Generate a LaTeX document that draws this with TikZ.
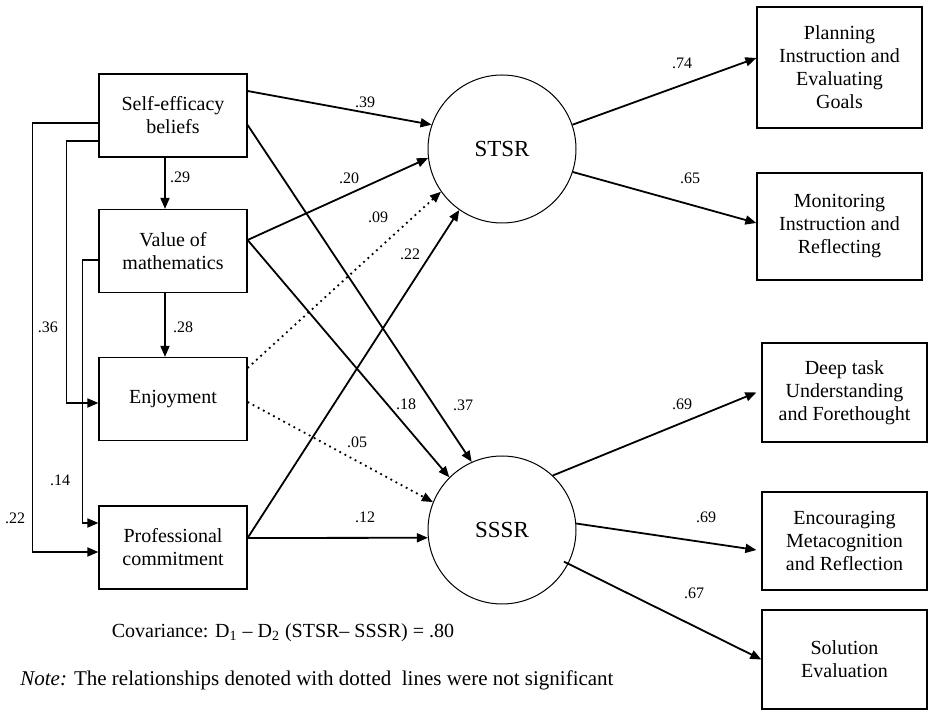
\documentclass[tikz,border=0pt]{standalone}
\usepackage{fontspec}
\setmainfont{Liberation Serif}
\usetikzlibrary{arrows.meta,positioning,calc}

\begin{document}
\begin{tikzpicture}[x=0.5pt, y=-0.5pt, >={Triangle[length=5.5pt,width=4.5pt]},
  obs/.style={draw, line width=0.6pt, align=center, inner sep=1pt,
    font=\fontsize{10}{11.5}\selectfont, minimum width=74pt, minimum height=41.5pt},
  ind/.style={obs, minimum width=82.5pt},
  lat/.style={draw, circle, line width=0.5pt, minimum size=74pt,
    font=\fontsize{11.5}{13}\selectfont},
  coef/.style={font=\fontsize{8}{9.6}\selectfont, inner sep=1pt},
  arr/.style={->, line width=0.9pt},
  ns/.style={arr, dotted}]
\useasboundingbox (0,0) rectangle (928,710);
% predictors
\node[obs] (self) at (173,115.5) {Self-efficacy\\beliefs};
\node[obs] (value) at (173,251) {Value of\\mathematics};
\node[obs] (enjoy) at (173,399) {Enjoyment};
\node[obs] (prof) at (173,547.5) {Professional\\commitment};
% latent factors
\node[lat] (stsr) at (502,149) {STSR};
\node[lat] (sssr) at (502,530) {SSSR};
% indicators
\node[ind, minimum height=60.5pt] (plan) at (839.5,67.5)
  {Planning\\Instruction and\\Evaluating\\Goals};
\node[ind, minimum height=53.5pt] (mon) at (839.5,226.5)
  {Monitoring\\Instruction and\\Reflecting};
\node[ind, minimum height=49.5pt] (deep) at (844.5,392.5)
  {Deep task\\Understanding\\and Forethought};
\node[ind, minimum height=49pt] (enc) at (844.5,541)
  {Encouraging\\Metacognition\\and Reflection};
\node[ind, minimum height=49.5pt] (sol) at (844.5,659.5) {Solution\\Evaluation};
% paths between predictors
\draw[arr] ([xshift=-4pt]self.south) -- ([xshift=-4pt]value.north);
\draw[arr] ([xshift=-4pt]value.south) -- ([xshift=-4pt]enjoy.north);
\draw[arr] ([yshift=-3.75pt]self.west) -- ++(-66,0) |- ([yshift=-2.25pt]prof.west);
\draw[arr] ([yshift=-12.75pt]self.west) -- ++(-32,0) |- ([yshift=-2pt]enjoy.west);
\draw[arr] ([yshift=-4.5pt]value.west) -- ++(-16,0) |- ([yshift=12.25pt]prof.west);
% paths to the factors
\draw[arr] ([yshift=12.25pt]self.east) -- (stsr.161);
\draw[arr] ([yshift=-4.75pt]self.east) -- (sssr.114);
\draw[arr] ([yshift=5.5pt]value.east) -- (stsr.187);
\draw[arr] ([yshift=5.5pt]value.east) -- (sssr.135);
\draw[ns] ([yshift=15.5pt]enjoy.east) -- (stsr.215);
\draw[ns] ([yshift=-1.5pt]enjoy.east) -- (sssr.158);
\draw[arr] ([yshift=4.75pt]prof.east) -- (stsr.235);
\draw[arr] ([yshift=4.75pt]prof.east) -- (sssr.186);
% loadings
\draw[arr] (stsr.19) -- ([yshift=4.75pt]plan.west);
\draw[arr] (stsr.-18) -- ([yshift=1.75pt]mon.west);
\draw[arr] (sssr.47) -- ([xshift=-2.5pt]deep.west);
\draw[arr] (sssr.5) -- ([xshift=-2.5pt,yshift=-4.5pt]enc.west);
\draw[arr, shorten <=-2.5pt] (sssr.-27) -- (sol.west);
% coefficients
\node[coef] (c29) at (180,177) {.29};
\node[coef] (c28) at (183,327) {.28};
\node[coef] (c36) at (48,327) {.36};
\node[coef] (c14) at (60,480) {.14};
\node[coef] (c22a) at (15,518) {.22};
\node[coef] (c39) at (365,102) {.39};
\node[coef] (c20) at (349,178) {.20};
\node[coef] (c09) at (378,217) {.09};
\node[coef] (c22b) at (410,254) {.22};
\node[coef] (c37) at (463,405) {.37};
\node[coef] (c18) at (406,404) {.18};
\node[coef] (c05) at (357,442) {.05};
\node[coef] (c12) at (365,517) {.12};
\node[coef] (c74) at (682,63) {.74};
\node[coef] (c65) at (690,178) {.65};
\node[coef] (c69a) at (682,404) {.69};
\node[coef] (c69b) at (706,517) {.69};
\node[coef] (c67) at (694,593) {.67};
% notes
\node[font=\fontsize{10}{12}\selectfont] (cov) at (283,633)
  {Covariance: D\textsubscript{1} – D\textsubscript{2} (STSR– SSSR) = .80};
\node[font=\fontsize{10.5}{12}\selectfont, anchor=west, inner sep=0pt] (note) at (20,680)
  {\textit{Note:} The relationships denoted with dotted\ \ lines were not significant};
\end{tikzpicture}
\end{document}
